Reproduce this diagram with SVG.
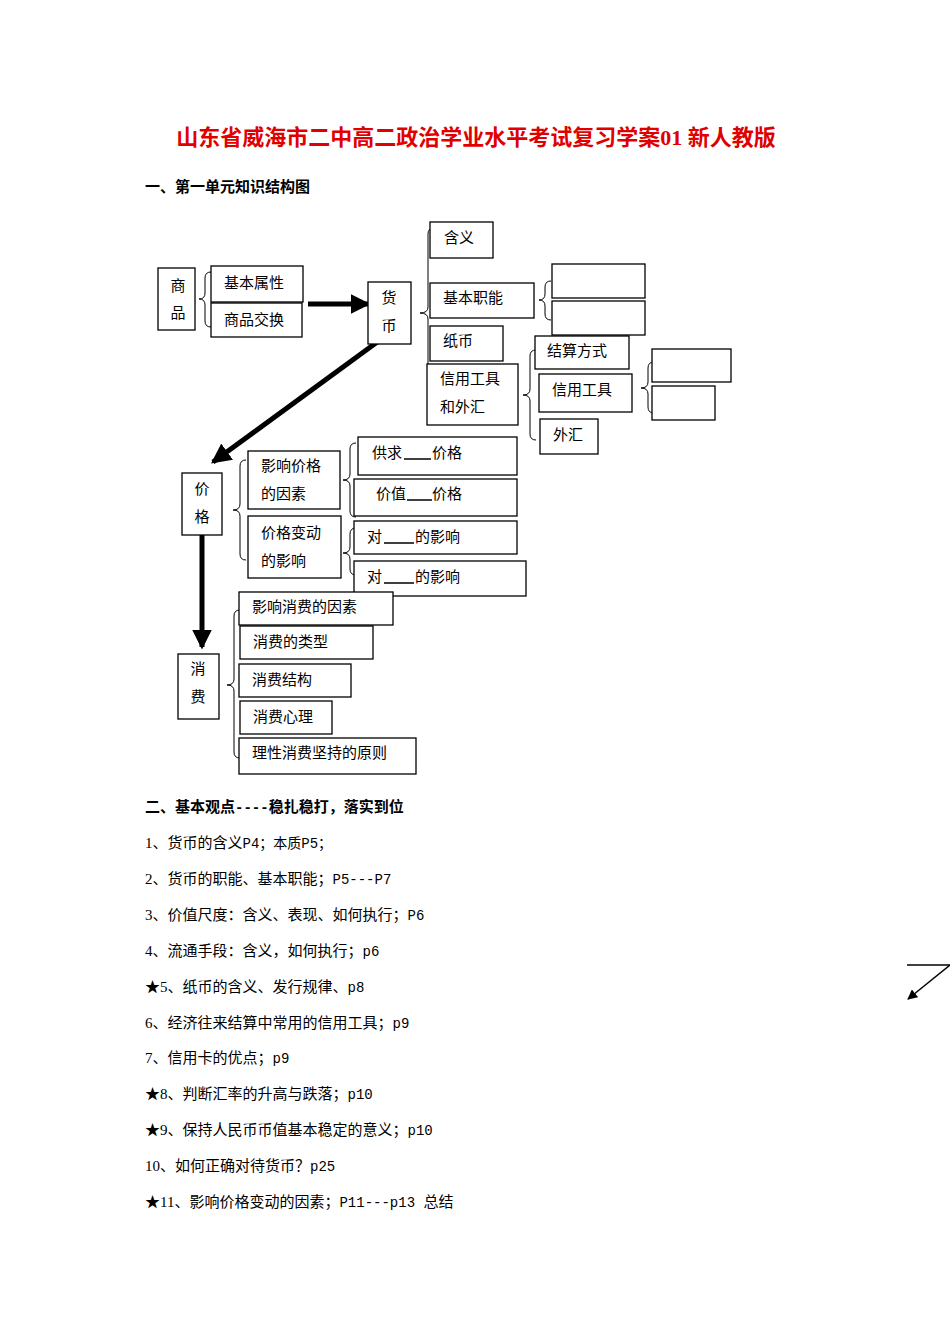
<svg xmlns="http://www.w3.org/2000/svg" width="950" height="1344" viewBox="0 0 950 1344">
<style>
text{font-family:"Liberation Serif","Noto Sans CJK SC",serif;font-size:15px;fill:#000}
.b{fill:#fff;stroke:#000;stroke-width:1.3}
.br{fill:none;stroke:#000;stroke-width:1}
.t{font-weight:bold}
.title{font-size:22px;font-weight:bold;fill:#e00000}
.u{stroke:#000;stroke-width:1.5}
.m{font-family:"Liberation Mono","Noto Sans CJK SC",monospace;font-size:14px}
</style>
<defs><marker id="ah" markerWidth="4" markerHeight="4" refX="3.5" refY="2" orient="auto" markerUnits="strokeWidth"><path d="M0,0 L4,2 L0,4 z" fill="#000"/></marker>
<marker id="ah2" markerWidth="10" markerHeight="10" refX="9" refY="5" orient="auto" markerUnits="userSpaceOnUse"><path d="M0,0 L10,5 L0,10 z" fill="#000"/></marker></defs>
<rect width="950" height="1344" fill="#fff"/>
<text class="title" x="476" y="145" text-anchor="middle">山东省威海市二中高二政治学业水平考试复习学案01 新人教版</text>
<text class="t" x="145" y="192">一、第一单元知识结构图</text>
<g id="connectors" fill="none" stroke="#000">
<line x1="308" y1="304" x2="368" y2="304" stroke-width="5" marker-end="url(#ah)"/>
<line x1="380" y1="340" x2="213" y2="462" stroke-width="5" marker-end="url(#ah)"/>
<line x1="202" y1="535" x2="202" y2="647" stroke-width="5" marker-end="url(#ah)"/>
<g class="br">
<path d="M211,272 Q205,272 205,278 L205,293 Q205,299 199,299 Q205,299 205,305 L205,321 Q205,327 211,327"/>
<path d="M434,228 Q428,228 428,234 L428,307 Q428,313 420,313 Q428,313 428,319 L428,394 Q428,400 434,400"/>
<path d="M551,281 Q545,281 545,287 L545,294 Q545,300 539,300 Q545,300 545,306 L545,314 Q545,320 551,320"/>
<path d="M536,350 Q530,350 530,356 L530,389 Q530,395 523,395 Q530,395 530,401 L530,434 Q530,440 536,440"/>
<path d="M654,362 Q648,362 648,368 L648,382 Q648,388 641,388 Q648,388 648,394 L648,407 Q648,413 654,413"/>
<path d="M246,460 Q240,460 240,466 L240,504 Q240,510 233,510 Q240,510 240,516 L240,554 Q240,560 246,560"/>
<path d="M356,443 Q350,443 350,449 L350,474 Q350,480 343,480 Q350,480 350,486 L350,511 Q350,517 356,517"/>
<path d="M356,528 Q350,528 350,534 L350,547 Q350,553 343,553 Q350,553 350,559 L350,569 Q350,575 356,575"/>
<path d="M240,610 Q234,610 234,616 L234,679 Q234,685 227,685 Q234,685 234,691 L234,752 Q234,758 240,758"/>
</g>
</g>
<g id="n-shangpin"><rect class="b" x="158" y="268" width="37" height="62"/><text x="178" y="291" text-anchor="middle">商</text><text x="178" y="318" text-anchor="middle">品</text></g>
<g id="n-jbsx"><rect class="b" x="211" y="266" width="92" height="36"/><text x="224" y="288">基本属性</text></g>
<g id="n-spjh"><rect class="b" x="211" y="303" width="91" height="34"/><text x="224" y="325">商品交换</text></g>
<g id="n-huobi"><rect class="b" x="368" y="282" width="43" height="62"/><text x="389" y="303" text-anchor="middle">货</text><text x="389" y="331" text-anchor="middle">币</text></g>
<g id="n-hanyi"><rect class="b" x="430" y="222" width="63" height="36"/><text x="444" y="243">含义</text></g>
<g id="n-jbzn"><rect class="b" x="430" y="283" width="104" height="35"/><text x="443" y="303">基本职能</text></g>
<g id="n-zhibi"><rect class="b" x="430" y="326" width="73" height="35"/><text x="443" y="346">纸币</text></g>
<g id="n-xygj"><rect class="b" x="427" y="364" width="91" height="61"/><text x="440" y="384">信用工具</text><text x="440" y="412">和外汇</text></g>
<g id="n-e1"><rect class="b" x="552" y="264" width="93" height="34"/></g>
<g id="n-e2"><rect class="b" x="552" y="301" width="93" height="34"/></g>
<g id="n-jsfs"><rect class="b" x="535" y="336" width="94" height="33"/><text x="547" y="356">结算方式</text></g>
<g id="n-xygj2"><rect class="b" x="539" y="374" width="93" height="38"/><text x="552" y="395">信用工具</text></g>
<g id="n-waihui"><rect class="b" x="540" y="419" width="58" height="35"/><text x="553" y="440">外汇</text></g>
<g id="n-e3"><rect class="b" x="652" y="349" width="79" height="33"/></g>
<g id="n-e4"><rect class="b" x="652" y="386" width="63" height="34"/></g>
<g id="n-jiage"><rect class="b" x="182" y="473" width="40" height="62"/><text x="202" y="494" text-anchor="middle">价</text><text x="202" y="522" text-anchor="middle">格</text></g>
<g id="n-yxjg"><rect class="b" x="248" y="451" width="92" height="58"/><text x="261" y="471">影响价格</text><text x="261" y="499">的因素</text></g>
<g id="n-jgbd"><rect class="b" x="248" y="516" width="93" height="62"/><text x="261" y="538">价格变动</text><text x="261" y="566">的影响</text></g>
<g id="n-gq"><rect class="b" x="358" y="437" width="159" height="38"/><text x="372" y="458">供求</text><line class="u" x1="404" y1="459" x2="431" y2="459"/><text x="432" y="458">价格</text></g>
<g id="n-jz"><rect class="b" x="354" y="479" width="163" height="37"/><text x="376" y="499">价值</text><line class="u" x1="407" y1="500" x2="432" y2="500"/><text x="432" y="499">价格</text></g>
<g id="n-d1"><rect class="b" x="354" y="521" width="163" height="33"/><text x="367" y="542">对</text><line class="u" x1="384" y1="543" x2="414" y2="543"/><text x="415" y="542">的影响</text></g>
<g id="n-d2"><rect class="b" x="354" y="561" width="172" height="35"/><text x="367" y="582">对</text><line class="u" x1="384" y1="583" x2="414" y2="583"/><text x="415" y="582">的影响</text></g>
<g id="n-xiaofei"><rect class="b" x="178" y="654" width="41" height="65"/><text x="198" y="674" text-anchor="middle">消</text><text x="198" y="702" text-anchor="middle">费</text></g>
<g id="n-c1"><rect class="b" x="239" y="592" width="154" height="33"/><text x="252" y="612">影响消费的因素</text></g>
<g id="n-c2"><rect class="b" x="240" y="626" width="133" height="33"/><text x="253" y="647">消费的类型</text></g>
<g id="n-c3"><rect class="b" x="239" y="664" width="112" height="33"/><text x="252" y="685">消费结构</text></g>
<g id="n-c4"><rect class="b" x="240" y="701" width="92" height="33"/><text x="253" y="722">消费心理</text></g>
<g id="n-c5"><rect class="b" x="239" y="738" width="177" height="36"/><text x="252" y="758">理性消费坚持的原则</text></g>
<text class="t" x="145" y="812">二、基本观点<tspan class="m" font-weight="bold">----</tspan>稳扎稳打，落实到位</text>
<g class="m">
<text class="m" x="145" y="848"><tspan font-family="Liberation Serif,Noto Sans CJK SC" font-size="15">1、货币的含义</tspan>P4；本质P5；</text>
<text class="m" x="145" y="884"><tspan font-family="Liberation Serif,Noto Sans CJK SC" font-size="15">2、货币的职能、基本职能；</tspan>P5---P7</text>
<text class="m" x="145" y="920"><tspan font-family="Liberation Serif,Noto Sans CJK SC" font-size="15">3、价值尺度：含义、表现、如何执行；</tspan>P6</text>
<text class="m" x="145" y="956"><tspan font-family="Liberation Serif,Noto Sans CJK SC" font-size="15">4、流通手段：含义，如何执行；</tspan>p6</text>
<text class="m" x="145" y="992"><tspan font-family="Liberation Serif,Noto Sans CJK SC" font-size="15">★5、纸币的含义、发行规律、</tspan>p8</text>
<text class="m" x="145" y="1028"><tspan font-family="Liberation Serif,Noto Sans CJK SC" font-size="15">6、经济往来结算中常用的信用工具；</tspan>p9</text>
<text class="m" x="145" y="1063"><tspan font-family="Liberation Serif,Noto Sans CJK SC" font-size="15">7、信用卡的优点；</tspan>p9</text>
<text class="m" x="145" y="1099"><tspan font-family="Liberation Serif,Noto Sans CJK SC" font-size="15">★8、判断汇率的升高与跌落；</tspan>p10</text>
<text class="m" x="145" y="1135"><tspan font-family="Liberation Serif,Noto Sans CJK SC" font-size="15">★9、保持人民币币值基本稳定的意义；</tspan>p10</text>
<text class="m" x="145" y="1171"><tspan font-family="Liberation Serif,Noto Sans CJK SC" font-size="15">10、如何正确对待货币？</tspan>p25</text>
<text class="m" x="145" y="1207"><tspan font-family="Liberation Serif,Noto Sans CJK SC" font-size="15">★11、影响价格变动的因素；</tspan>P11---p13 <tspan font-family="Liberation Serif,Noto Sans CJK SC" font-size="15">总结</tspan></text>
</g>
<g fill="none" stroke="#000" stroke-width="1.5"><line x1="907" y1="965" x2="950" y2="965"/><line x1="950" y1="965" x2="908" y2="999" marker-end="url(#ah2)"/></g>
</svg>
